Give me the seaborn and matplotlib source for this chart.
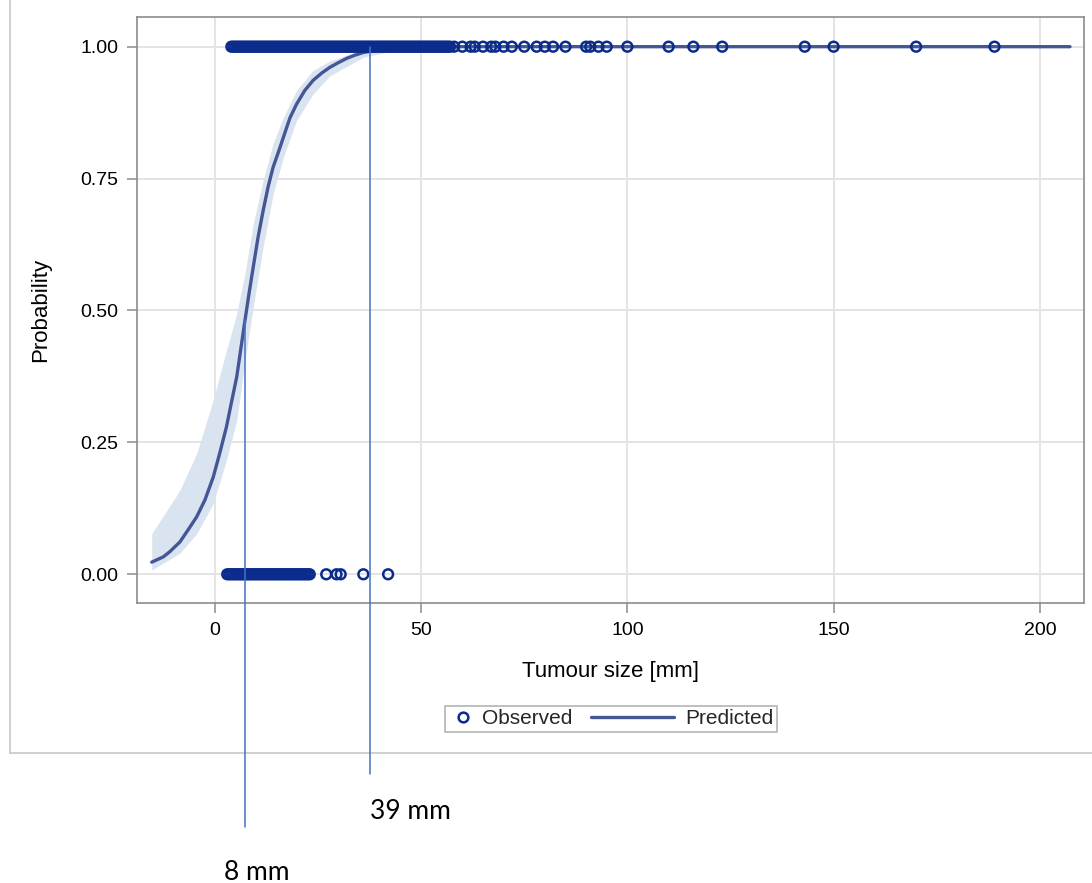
import numpy as np
import pandas as pd
import matplotlib
matplotlib.use("Agg")
import matplotlib.pyplot as plt
import matplotlib.transforms as mtransforms
from matplotlib.lines import Line2D
from matplotlib.legend_handler import HandlerLine2D
import seaborn as sns

# ---------------- data ----------------
obs_size_event = [4, 4.5, 5, 5.5, 6, 6.5, 7, 7.5, 8, 8.5, 9, 9.5, 10, 10.5, 11,
                  11.5, 12, 12.5, 13, 13.5, 14, 14.5, 15, 15.5, 16, 16.5, 17, 17.5,
                  18, 18.5, 19, 19.5, 20, 20.5, 21, 21.5, 22, 22.5, 23, 23.5, 24,
                  24.5, 25, 25.5, 26, 26.5, 27, 27.5, 28, 28.5, 29, 29.5, 30, 30.5,
                  31, 31.5, 32, 32.5, 33, 33.5, 34, 34.5, 35, 35.5, 36, 36.5, 37,
                  37.5, 38, 38.5, 39, 39.5, 40, 40.5, 41, 41.5, 42, 42.5, 43, 43.5,
                  44, 44.5, 45, 45.5, 46, 46.5, 47, 47.5, 48, 48.5, 49, 49.5, 50,
                  50.5, 51, 51.5, 52, 52.5, 53, 53.5, 54, 54.5, 55, 55.5, 56, 56.5,
                  57, 58, 60, 62, 63, 65, 67, 68, 70, 72, 75, 78, 80, 82, 85, 90,
                  91, 93, 95, 100, 110, 116, 123, 143, 150, 170, 189]
obs_size_none = [3, 3.5, 4, 4.5, 5, 5.5, 6, 6.5, 7, 7.5, 8, 8.5, 9, 9.5, 10, 10.5,
                 11, 11.5, 12, 12.5, 13, 13.5, 14, 14.5, 15, 15.5, 16, 16.5, 17,
                 17.5, 18, 18.5, 19, 19.5, 20, 20.5, 21, 21.5, 22, 22.5, 23, 27,
                 29.5, 30.5, 36, 42]

pred_x = [-15.3, -12.5, -10.9, -8.5, -6.5, -4.4, -2.4, -0.4, 1.2, 2.8, 4.0, 5.3,
          7.3, 8.3, 9.3, 10.5, 11.7, 12.9, 14.1, 15.4, 16.6, 18.2, 19.8, 21.8,
          23.8, 25.9, 27.9, 30.0, 32.0, 34.0, 36.0, 39.0, 42.0, 46.0, 50.0, 60.0,
          80.0, 120.0, 160.0, 207.3]
pred_p = [0.023, 0.033, 0.043, 0.061, 0.084, 0.109, 0.141, 0.184, 0.230, 0.279,
          0.325, 0.374, 0.481, 0.533, 0.582, 0.640, 0.689, 0.734, 0.771, 0.800,
          0.828, 0.865, 0.891, 0.917, 0.936, 0.950, 0.961, 0.970, 0.978, 0.984,
          0.989, 0.993, 0.996, 0.998, 0.999, 1.0, 1.0, 1.0, 1.0, 1.0]

band_x = [-15.3, -8.5, -4.4, -0.4, 2.8, 5.3, 7.3, 9.3, 11.7, 14.1, 16.6, 19.8,
          23.8, 27.9, 36.0, 42.0, 50.0, 60.0, 207.3]
band_lo = [0.008, 0.040, 0.077, 0.134, 0.216, 0.292, 0.405, 0.506, 0.620, 0.720,
           0.790, 0.860, 0.910, 0.945, 0.980, 0.990, 0.997, 1.0, 1.0]
band_hi = [0.077, 0.159, 0.229, 0.330, 0.424, 0.494, 0.570, 0.664, 0.746, 0.816,
           0.866, 0.917, 0.955, 0.973, 0.995, 0.999, 1.0, 1.0, 1.0]

x_ticks = [0, 50, 100, 150, 200]
y_ticks = [0.0, 0.25, 0.5, 0.75, 1.0]
y_tick_labels = ["0.00", "0.25", "0.50", "0.75", "1.00"]

cut_small, cut_small_y, cut_small_label = 7.4, 0.482, "8 mm"
cut_large, cut_large_y, cut_large_label = 37.6, 1.0, "39 mm"

# ---------------- styling ----------------
sns.set_theme(style="white")
plt.rcParams['font.family'] = ['Liberation Sans', 'DejaVu Sans']

OBS_C = '#0b2c8c'
PRED_C = '#445694'
BAND_C = '#dae3f0'
ANNOT_C = '#4472c4'
GRID_C = '#e4e4e4'
SPINE_C = '#8c8c8c'

W, H = 1092, 883
fig = plt.figure(figsize=(W / 100, H / 100), dpi=100)
fig.patch.set_facecolor('white')
ax = fig.add_axes([137.3 / W, 1 - 603.3 / H, (1084 - 137.3) / W, (603.3 - 17.3) / H])

obs = pd.DataFrame({
    'size': obs_size_event + obs_size_none,
    'outcome': [1.0] * len(obs_size_event) + [0.0] * len(obs_size_none),
})

ax.fill_between(band_x, band_lo, band_hi, color=BAND_C, lw=0, zorder=1)
sns.lineplot(x=pred_x, y=pred_p, ax=ax, color=PRED_C, lw=2.4,
             estimator=None, sort=False, zorder=2)
sns.scatterplot(data=obs, x='size', y='outcome', ax=ax, marker='o', s=50,
                color=OBS_C, zorder=3)
pts = ax.collections[-1]
pts.set_facecolor('none')
pts.set_edgecolor(OBS_C)
pts.set_linewidth(1.8)

ax.set_xlim(-18.8, 210.7)
ax.set_ylim(-0.055, 1.0557)
ax.set_xticks(x_ticks)
ax.set_xticklabels([str(t) for t in x_ticks])
ax.set_yticks(y_ticks)
ax.set_yticklabels(y_tick_labels)
ax.grid(True, color=GRID_C, lw=1.4)
ax.set_axisbelow(True)
for sp in ax.spines.values():
    sp.set_visible(True)
    sp.set_color(SPINE_C)
    sp.set_linewidth(1.2)
ax.tick_params(axis='both', bottom=True, left=True, length=7, width=1.1,
               color=SPINE_C, labelsize=14, pad=6.8, labelcolor='black')

ax.set_xlabel('Tumour size [mm]', fontsize=16, color='black')
ax.xaxis.set_label_coords(610.6 / W, 1 - 661 / H, transform=fig.transFigure)
ax.set_ylabel('Probability', fontsize=16, color='black')
ax.yaxis.set_label_coords(51 / W, 1 - 310.3 / H, transform=fig.transFigure)

# ---------------- legend ----------------
class PredHandler(HandlerLine2D):
    def get_xdata(self, legend, xdescent, ydescent, width, height, fontsize):
        right = -xdescent + width - 5.0
        left = right - 60.0
        return np.array([left, right]), np.array([(left + right) / 2])

h_obs = Line2D([], [], ls='none', marker='o', ms=7, mfc='none', mec=OBS_C, mew=1.8)
h_pred = Line2D([], [], color=PRED_C, lw=2.4)
leg = fig.legend(handles=[h_obs, h_pred], labels=['Observed', 'Predicted'],
                 handler_map={h_obs: HandlerLine2D(), h_pred: PredHandler()},
                 loc='center', bbox_to_anchor=(611 / W, 1 - 719 / H),
                 bbox_transform=fig.transFigure, ncol=2, fontsize=15,
                 frameon=True, fancybox=False, shadow=False, edgecolor='#b4b4b4',
                 framealpha=1, borderpad=0.15, handlelength=1.4,
                 handletextpad=0.2, columnspacing=3.84, borderaxespad=0)
leg.get_frame().set_linewidth(1.2)

# ---------------- annotation lines / texts ----------------
blend = mtransforms.blended_transform_factory(ax.transData, fig.transFigure)
inv = fig.transFigure.inverted()

def fig_y(yval):
    return inv.transform(ax.transData.transform((0, yval)))[1]

fig.add_artist(Line2D([cut_small, cut_small], [fig_y(cut_small_y), 1 - 827 / H],
                      transform=blend, color=ANNOT_C, lw=1.1, zorder=5))
fig.add_artist(Line2D([cut_large, cut_large], [fig_y(cut_large_y), 1 - 774 / H],
                      transform=blend, color=ANNOT_C, lw=1.1, zorder=5))
fig.text(370 / W, 1 - 819 / H, cut_large_label, family=['Lato', 'DejaVu Sans'],
         fontsize=19, va='baseline', ha='left', color='black')
fig.text(224 / W, 1 - 880 / H, cut_small_label, family=['Lato', 'DejaVu Sans'],
         fontsize=19, va='baseline', ha='left', color='black')

# outer graph border (partially visible)
fig.add_artist(Line2D([10 / W, 10 / W], [1.0, 1 - 752.5 / H],
                      transform=fig.transFigure, color='#c8c8c8', lw=1.2))
fig.add_artist(Line2D([10 / W, 1.0], [1 - 752.5 / H, 1 - 752.5 / H],
                      transform=fig.transFigure, color='#c8c8c8', lw=1.2))

fig.savefig('out.png', dpi=100)
